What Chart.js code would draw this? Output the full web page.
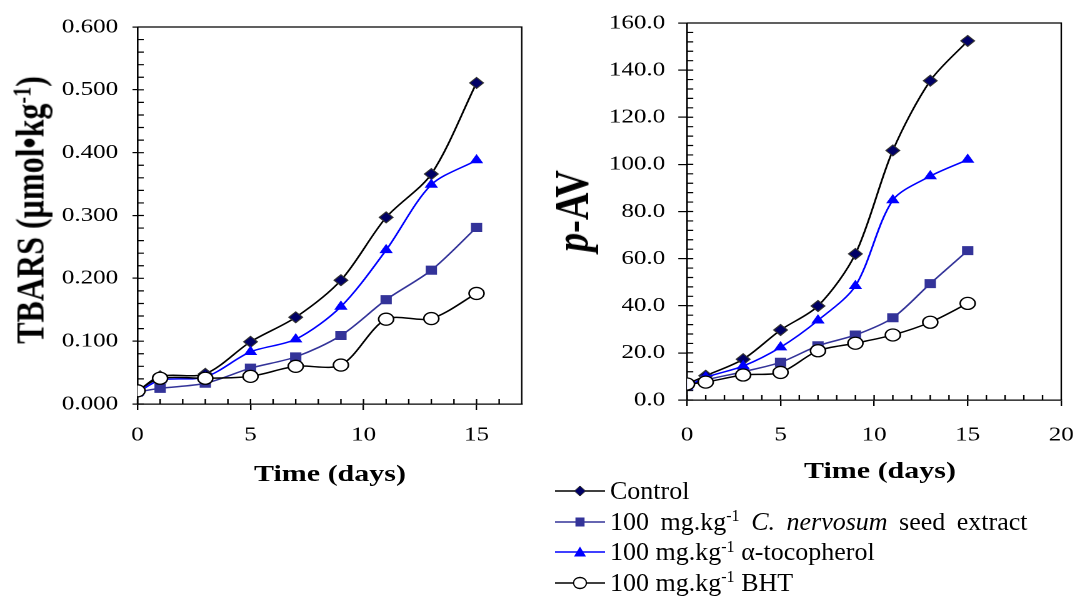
<!DOCTYPE html>
<html>
<head>
<meta charset="utf-8">
<script src="https://cdn.jsdelivr.net/npm/chart.js@4.4.3/dist/chart.umd.min.js"></script>
<style>
  html, body { margin: 0; padding: 0; background: #fff; }
  body { width: 1084px; height: 599px; position: relative; overflow: hidden;
         font-family: "Liberation Serif", "Times New Roman", serif; color: #000; }
  .panel { position: absolute; top: 0; height: 460px; transform-origin: 0 0; transform: scaleX(1.25); }
  #left { left: 0; width: 432px; }
  #right { left: 560px; width: 428px; }
  .panel canvas { position: absolute; left: 0; top: 0; }
  .ytitle { position: absolute; font-weight: bold; white-space: nowrap; line-height: 1;
            transform: translate(-50%, -50%) rotate(-90deg); }
  .xtitle { position: absolute; font-weight: bold; white-space: nowrap; line-height: 1;
            font-size: 24px; transform: translate(-50%, -50%); }
  sup { font-size: 0.62em; vertical-align: baseline; position: relative; top: -0.55em; line-height: 0; }
  #legend { position: absolute; left: 555px; top: 476px; font-size: 26px; line-height: 1; }
  .row { height: 30.6px; display: flex; align-items: center; white-space: nowrap; }
  .row svg { width: 52px; height: 30px; margin-right: 3px; flex: none; }
</style>
</head>
<body>
<div class="panel" id="left">
  <canvas id="c-tbars" width="432" height="460"></canvas>
  <div class="ytitle" style="left:24px; top:210px; font-size:32px;">TBARS (µmol•kg<sup>-1</sup>)</div>
  <div class="xtitle" style="left:264px; top:473px;">Time (days)</div>
</div>
<div class="panel" id="right">
  <canvas id="c-pav" width="428" height="460"></canvas>
  <div class="ytitle" style="left:9px; top:211px; font-size:38px;"><i>p</i>-AV</div>
  <div class="xtitle" style="left:256px; top:470px;">Time (days)</div>
</div>

<div id="legend">
  <div class="row"><svg viewBox="0 0 52 30"><line x1="0" y1="15" x2="50" y2="15" stroke="#000" stroke-width="1.5"/><polygon points="25,10 30.5,15 25,20 19.5,15" fill="#000066" stroke="#333" stroke-width="1"/></svg><span>Control</span></div>
  <div class="row"><svg viewBox="0 0 52 30"><line x1="0" y1="15" x2="50" y2="15" stroke="#333399" stroke-width="1.5"/><rect x="20.5" y="10.5" width="9" height="9" fill="#333399"/></svg><span style="word-spacing:5px;">100 mg.kg<sup>-1</sup> <i>C. nervosum</i> seed extract</span></div>
  <div class="row"><svg viewBox="0 0 52 30"><line x1="0" y1="15" x2="50" y2="15" stroke="#0000ff" stroke-width="1.5"/><polygon points="25,9.5 31,19.5 19,19.5" fill="#0000ff"/></svg><span>100 mg.kg<sup>-1</sup> α-tocopherol</span></div>
  <div class="row"><svg viewBox="0 0 52 30"><line x1="0" y1="15" x2="50" y2="15" stroke="#000" stroke-width="1.5"/><ellipse cx="25" cy="15" rx="6.5" ry="5.5" fill="#fff" stroke="#000" stroke-width="1.3"/></svg><span>100 mg.kg<sup>-1</sup> BHT</span></div>
</div>

<script>
// storage days
const DAYS = [0, 1, 3, 5, 7, 9, 11, 13, 15];

// TBARS (µmol/kg)
const TBARS_CONTROL = [0.020, 0.044, 0.048, 0.099, 0.138, 0.197, 0.297, 0.366, 0.511];
const TBARS_SEED    = [0.019, 0.025, 0.033, 0.057, 0.075, 0.109, 0.166, 0.213, 0.281];
const TBARS_TOCO    = [0.018, 0.038, 0.043, 0.083, 0.103, 0.155, 0.245, 0.349, 0.388];
const TBARS_BHT     = [0.021, 0.041, 0.041, 0.044, 0.060, 0.062, 0.135, 0.136, 0.176];

// p-anisidine value
const PAV_CONTROL = [6.8, 10.3, 17.3, 29.7, 39.9, 62.0, 105.9, 135.5, 152.4];
const PAV_SEED    = [6.0, 8.5, 12.0, 16.0, 23.0, 27.6, 34.9, 49.4, 63.4];
const PAV_TOCO    = [5.8, 9.6, 14.4, 22.4, 33.8, 48.4, 84.8, 95.0, 102.0];
const PAV_BHT     = [6.8, 7.6, 10.6, 11.7, 20.9, 24.1, 27.6, 33.0, 41.0];

// axis ticks
const TBARS_TICKS = [0, 0.1, 0.2, 0.3, 0.4, 0.5, 0.6];
const PAV_TICKS = [0, 20, 40, 60, 80, 100, 120, 140, 160];
const X_TICKS_LEFT = [0, 5, 10, 15];
const X_TICKS_RIGHT = [0, 5, 10, 15, 20];

const SERIF = '"Liberation Serif", "Times New Roman", serif';
Chart.defaults.font.family = SERIF;
Chart.defaults.color = "#000";

const pts = (vals) => vals.map((v, i) => ({ x: DAYS[i], y: v }));

function series(control, seed, toco, bht) {
  const line = { showLine: true, tension: 0.3, borderWidth: 1.5 };
  return [
    { ...line, label: "Control", data: pts(control), borderColor: "#000", order: 4,
      pointStyle: "rectRot", pointRadius: 5.5, pointBackgroundColor: "#000066", pointBorderColor: "#333", pointBorderWidth: 1 },
    { ...line, label: "Seed extract", data: pts(seed), borderColor: "#333399", order: 3,
      pointStyle: "rect", pointRadius: 6.4, pointBackgroundColor: "#333399", pointBorderColor: "#333399", pointBorderWidth: 0 },
    { ...line, label: "α-tocopherol", data: pts(toco), borderColor: "#0000ff", order: 2,
      pointStyle: "triangle", pointRadius: 6.2, pointBackgroundColor: "#0000ff", pointBorderColor: "#0000ff", pointBorderWidth: 0 },
    { ...line, label: "BHT", data: pts(bht), borderColor: "#000", order: 1,
      pointStyle: "circle", pointRadius: 6, pointBackgroundColor: "#fff", pointBorderColor: "#000", pointBorderWidth: 1.3 },
  ];
}

// top/right frame plus small inward ticks
const frameTicks = {
  id: "frameTicks",
  beforeDatasetsDraw(chart, args, opts) {
    const { ctx, chartArea: a, scales: { x, y } } = chart;
    ctx.save();
    ctx.strokeStyle = "#000";
    ctx.lineWidth = 1.2;
    ctx.beginPath();
    ctx.moveTo(a.left, a.top); ctx.lineTo(a.right, a.top); ctx.lineTo(a.right, a.bottom);
    const nx = Math.round((x.max - x.min) / opts.xMinor);
    for (let i = 0; i <= nx; i++) {
      const px = x.getPixelForValue(x.min + i * opts.xMinor);
      ctx.moveTo(px, a.bottom); ctx.lineTo(px, a.bottom - 5);
    }
    const ny = Math.round((y.max - y.min) / opts.yMinor);
    for (let i = 0; i <= ny; i++) {
      const py = y.getPixelForValue(y.min + i * opts.yMinor);
      ctx.moveTo(a.left, py); ctx.lineTo(a.left + 5, py);
    }
    ctx.stroke();
    ctx.restore();
  },
};

function mk(id, cfg) {
  const { datasets, xMax, xTicks, yMax, yTicks, digits, yWidth, xHeight, yTick, yPad, xPad, pad, minor } = cfg;
  return new Chart(document.getElementById(id), {
    type: "scatter",
    data: { datasets },
    plugins: [frameTicks],
    options: {
      responsive: false,
      devicePixelRatio: 2,
      animation: false,
      layout: { padding: pad },
      plugins: { legend: { display: false }, tooltip: { enabled: false }, frameTicks: minor },
      scales: {
        x: {
          type: "linear", min: 0, max: xMax,
          afterBuildTicks: (s) => { s.ticks = xTicks.map((v) => ({ value: v })); },
          afterFit: (s) => { s.height = xHeight; },
          ticks: { font: { size: 20 }, padding: xPad, color: "#000", maxRotation: 0 },
          grid: { drawOnChartArea: false, drawTicks: true, tickLength: 6, color: "#000", lineWidth: 1.2 },
          border: { display: true, color: "#000", width: 1.3 },
        },
        y: {
          type: "linear", min: 0, max: yMax,
          afterBuildTicks: (s) => { s.ticks = yTicks.map((v) => ({ value: v })); },
          afterFit: (s) => { s.width = yWidth; },
          ticks: { font: { size: 20 }, padding: yPad, color: "#000", callback: (v) => Number(v).toFixed(digits) },
          grid: { drawOnChartArea: false, drawTicks: true, tickLength: yTick, color: "#000", lineWidth: 1.2 },
          border: { display: true, color: "#000", width: 1.3 },
        },
      },
    },
  });
}

mk("c-tbars", {
  datasets: series(TBARS_CONTROL, TBARS_SEED, TBARS_TOCO, TBARS_BHT),
  xMax: 17, xTicks: X_TICKS_LEFT, yMax: 0.6, yTicks: TBARS_TICKS, digits: 3,
  yWidth: 110, xHeight: 56, yTick: 4, yPad: 11.5, xPad: 13,
  pad: { left: 0, top: 27, right: 14.6, bottom: 0 },
  minor: { xMinor: 1, yMinor: 0.02 },
});

mk("c-pav", {
  datasets: series(PAV_CONTROL, PAV_SEED, PAV_TOCO, PAV_BHT),
  xMax: 20, xTicks: X_TICKS_RIGHT, yMax: 160, yTicks: PAV_TICKS, digits: 1,
  yWidth: 101.6, xHeight: 60, yTick: 7, yPad: 10.5, xPad: 17,
  pad: { left: 0, top: 23, right: 0, bottom: 0 },
  minor: { xMinor: 1, yMinor: 4 },
});
</script>
</body>
</html>
